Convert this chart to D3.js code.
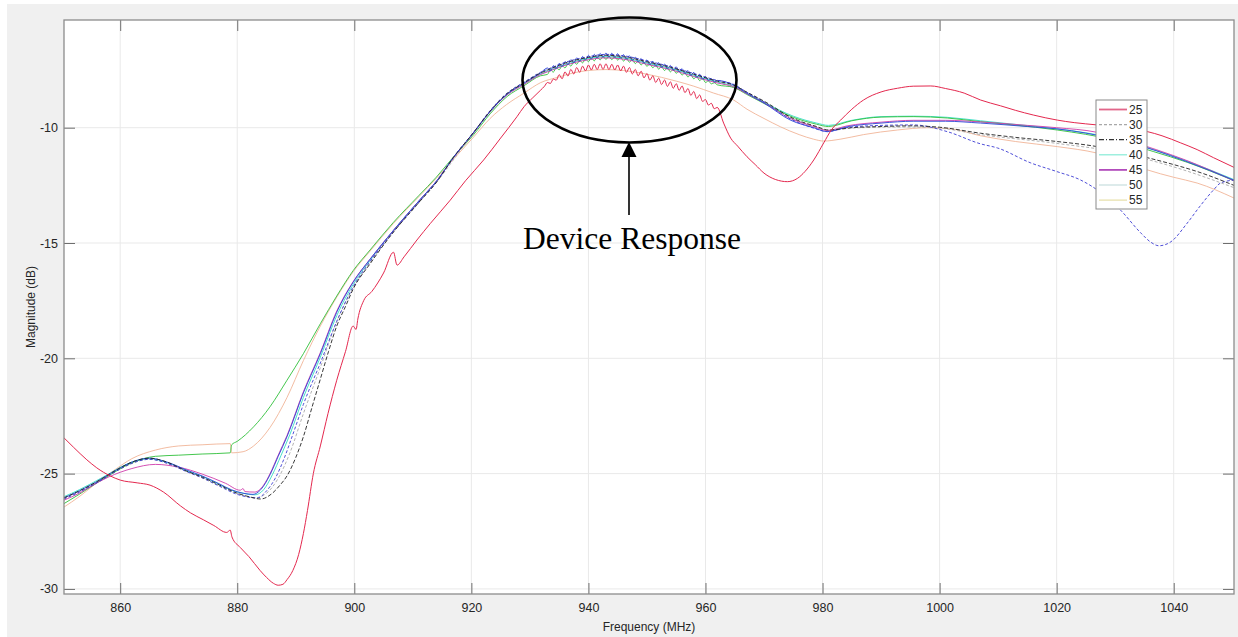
<!DOCTYPE html>
<html><head><meta charset="utf-8">
<script src="https://cdn.jsdelivr.net/npm/d3@7"></script>
<style>body{margin:0;background:#fff;overflow:hidden}</style>
</head><body>
<svg id="c" width="1238" height="637"></svg>
<script>
// ---------------- DATA ----------------
const xTicks = [860, 880, 900, 920, 940, 960, 980, 1000, 1020, 1040];
const yTicks = [-30, -25, -20, -15, -10];
const xDomain = [850.4, 1050.3];
const yDomain = [-30.22, -5.33];

const legendLabels = ["25", "30", "35", "40", "45", "50", "55"];
const legendColors = ["#e2668a", "#a8a8a8", "#333333", "#86ecd6", "#b24cbc", "#c6dede", "#e6dfa6"];
const legendDashes = [null, "3,2", "5,2,1,2", null, null, null, null];

// frequency grid of the rippled peak segment (MHz)
const rippleFreqs = [933,933.5,934,934.5,935,935.5,936,936.5,937,937.5,938,938.5,939,939.5,940,940.5,941,941.5,942,942.5,943,943.5,944,944.5,945,945.5,946,946.5,947,947.5,948,948.5,949,949.5,950,950.5,951,951.5,952,952.5,953,953.5,954,954.5,955,955.5,956,956.5,957,957.5,958,958.5,959,959.5,960,960.5,961,961.5,962];

// 25 (red)
const red25 = [[850.4,-23.45],[852,-23.85],[854.3,-24.4],[856,-24.75],[858.3,-25.1],[860,-25.28],[862.9,-25.4],[865.1,-25.5],[867.4,-25.8],[870.3,-26.4],[872,-26.7],[874.2,-27.0],[876,-27.25],[878.2,-27.55],[878.8,-27.45],[879.1,-27.75],[880.5,-28.2],[882,-28.6],[883.9,-29.2],[885,-29.5],[886.2,-29.76],[887,-29.84],[887.8,-29.8],[888.5,-29.6],[889.5,-29.2],[890.5,-28.5],[891.3,-27.6],[892,-26.6],[893,-25.0],[894.2,-23.8],[895.5,-22.4],[897,-20.95],[898.5,-19.7],[899.8,-18.6],[900.3,-18.75],[900.6,-18.3],[901.6,-17.5],[903,-17.1],[905,-16.3],[906.7,-15.4],[907.3,-15.96],[908.5,-15.6],[910.7,-14.87],[913,-14.15],[916.4,-13.14],[919,-12.3],[922.1,-11.4],[925,-10.45],[927.8,-9.52],[929,-9.09],[930.5,-8.7],[931.8,-8.38],[932.5,-8.2]];
const red25Ripple = [-8.04,-8.08,-7.89,-7.94,-7.70,-7.88,-7.58,-7.76,-7.47,-7.67,-7.39,-7.60,-7.33,-7.54,-7.28,-7.50,-7.25,-7.48,-7.23,-7.47,-7.23,-7.48,-7.25,-7.50,-7.28,-7.54,-7.33,-7.60,-7.39,-7.67,-7.47,-7.75,-7.55,-7.84,-7.65,-7.94,-7.75,-8.04,-7.85,-8.13,-7.93,-8.21,-8.01,-8.29,-8.09,-8.38,-8.19,-8.48,-8.30,-8.60,-8.43,-8.74,-8.58,-8.86,-8.78,-9.02,-8.94,-9.18,-9.12];
const red25Tail = [[963.1,-9.8],[964.3,-10.45],[965.5,-10.8],[967.1,-11.26],[968.5,-11.6],[970,-11.97],[972,-12.25],[974,-12.34],[975.7,-12.2],[977,-11.9],[978.5,-11.4],[980.2,-10.66],[981.5,-10.1],[983.1,-9.67],[985,-9.2],[987,-8.8],[990,-8.45],[992.8,-8.29],[995.5,-8.2],[998.5,-8.19],[1001,-8.3],[1004.2,-8.5],[1007,-8.8],[1010.4,-9.05],[1013,-9.25],[1016,-9.45],[1020.1,-9.67],[1023,-9.78],[1026.9,-9.88],[1031,-10.0],[1035.5,-10.17],[1038,-10.35],[1041.2,-10.66],[1044,-10.95],[1046.8,-11.3],[1050.3,-11.72]];

// blue solid
const blueSolid = [[850.4,-26.05],[853,-25.75],[856,-25.35],[858.3,-25.0],[860,-24.75],[862,-24.5],[865,-24.33],[868,-24.5],[871.4,-24.85],[874,-25.1],[877,-25.45],[879,-25.7],[881,-25.85],[882.7,-25.9],[884,-25.7],[885.6,-25.05],[887,-24.25],[888.5,-23.4],[891.3,-21.5],[894.2,-19.8],[897,-18.0],[899.8,-16.7],[902.7,-15.7],[906.7,-14.45],[911.3,-13.1],[914.1,-12.3],[916.9,-11.3],[920.4,-10.2],[923.2,-9.3],[926.1,-8.55],[929,-8.06],[931.8,-7.63]];
const blueSolidRipple = [-7.41,-7.54,-7.31,-7.44,-7.21,-7.35,-7.13,-7.27,-7.05,-7.19,-6.97,-7.12,-6.91,-7.06,-6.86,-7.02,-6.82,-6.98,-6.78,-6.95,-6.76,-6.94,-6.77,-6.96,-6.79,-6.99,-6.83,-7.03,-6.88,-7.09,-6.94,-7.15,-7.00,-7.21,-7.06,-7.27,-7.12,-7.33,-7.18,-7.39,-7.24,-7.45,-7.30,-7.51,-7.36,-7.58,-7.44,-7.66,-7.52,-7.74,-7.60,-7.82,-7.68,-7.90,-7.78,-7.96,-7.87,-8.02,-7.95];
const blueSolidTail = [[964.8,-8.15],[967,-8.5],[970,-8.93],[974.5,-9.67],[978.5,-10.0],[980.8,-10.17],[984.2,-9.96],[990,-9.8],[995.6,-9.72],[1001,-9.72],[1007,-9.8],[1015,-9.95],[1020,-10.05],[1030,-10.5],[1037,-11.0],[1042,-11.45],[1050.3,-12.28]];

// 50 (green)
const green50 = [[850.4,-26.3],[853,-25.9],[856,-25.4],[858.3,-25.05],[861,-24.65],[864,-24.35],[866,-24.25],[870,-24.2],[874,-24.15],[878.8,-24.1],[879.05,-23.75],[880,-23.6],[882.8,-22.97],[885.6,-22.1],[888.5,-20.95],[891.3,-19.8],[894.2,-18.5],[897,-17.3],[899.8,-16.2],[902.7,-15.3],[906.7,-14.1],[911,-12.95],[914,-12.15],[917,-11.25],[920.4,-10.3],[923.2,-9.4],[926.1,-8.65],[929,-8.18],[931.8,-7.75]];
const green50Ripple = [-7.69,-7.50,-7.59,-7.40,-7.49,-7.31,-7.41,-7.23,-7.33,-7.15,-7.25,-7.08,-7.19,-7.02,-7.14,-6.98,-7.10,-6.94,-7.06,-6.91,-7.04,-6.90,-7.05,-6.92,-7.07,-6.95,-7.11,-6.99,-7.16,-7.05,-7.22,-7.11,-7.28,-7.17,-7.34,-7.23,-7.40,-7.29,-7.46,-7.35,-7.52,-7.41,-7.58,-7.47,-7.64,-7.54,-7.72,-7.62,-7.80,-7.70,-7.88,-7.78,-7.96,-7.86,-8.04,-7.97,-8.10,-8.05,-8.14];
const green50Tail = [[964.8,-8.25],[967,-8.55],[970,-8.95],[975,-9.55],[979,-9.85],[981,-9.95],[985,-9.7],[990,-9.54],[995.6,-9.52],[1001.3,-9.58],[1007,-9.74],[1012.7,-9.88],[1020.1,-10.1],[1029.7,-10.53],[1036.6,-11.04],[1042.3,-11.5],[1050.3,-12.3]];

// 55 (tan)
const tan55 = [[850.4,-26.45],[853,-26.0],[856,-25.4],[859,-24.85],[862,-24.35],[866,-23.98],[870,-23.8],[874,-23.75],[878.8,-23.7],[879.05,-24.1],[881,-24.05],[882.8,-23.8],[885.6,-23.0],[888.5,-21.7],[891.3,-20.1],[894.2,-18.6],[897,-17.35],[899.8,-16.25],[902.7,-15.35],[906.7,-14.15],[911,-13.0],[914,-12.2],[917,-11.35],[920.4,-10.4],[923.2,-9.6],[926,-9.0],[929,-8.5],[931.8,-8.05],[935,-7.8],[937.5,-7.62],[940,-7.52],[943,-7.48],[946,-7.52],[950,-7.68],[955,-7.98],[958,-8.2],[961.4,-8.5],[964.8,-8.8],[967.1,-9.2],[970,-9.6],[972.8,-9.96],[976,-10.3],[978.5,-10.5],[980.2,-10.58],[983,-10.5],[987,-10.3],[992.8,-10.1],[998,-10.0],[1002,-10.05],[1007,-10.35],[1013,-10.6],[1020.1,-10.82],[1026.9,-11.1],[1031,-11.4],[1035.5,-11.83],[1040,-12.15],[1044,-12.4],[1050.3,-13.05]];

// 35 (black dashed)
const black35 = [[850.4,-26.05],[853,-25.75],[856,-25.35],[858.3,-25.0],[860,-24.75],[862,-24.5],[865,-24.33],[868,-24.5],[871.4,-24.9],[874,-25.15],[877,-25.5],[880,-25.85],[882,-26.0],[884,-26.1],[886,-25.85],[887.3,-25.5],[888.5,-25.1],[890,-24.3],[891.3,-23.4],[892.8,-22.1],[894.2,-20.9],[895.6,-19.7],[897,-18.6],[898.5,-17.75],[899.8,-17.0],[902.7,-15.9],[906,-14.75],[911,-13.25],[914.1,-12.35],[916.9,-11.3],[920.4,-10.2],[923.2,-9.28],[926.1,-8.52],[929,-8.06],[931.8,-7.63],[933,-7.5],[936,-7.2],[940,-6.95],[943,-6.86],[946,-6.92],[950,-7.14],[954,-7.38],[958,-7.68],[962,-7.98],[964.8,-8.15],[967,-8.45],[970,-8.85],[975,-9.6],[979,-9.95],[981,-10.1],[985,-10.0],[990,-9.95],[995,-9.92],[1000,-9.98],[1007,-10.24],[1013,-10.42],[1020.1,-10.6],[1026.9,-10.82],[1031,-11.03],[1035.5,-11.3],[1040,-11.6],[1044,-11.9],[1050.3,-12.5]];

// blue dashed
const blueDashed = [[850.4,-26.1],[853,-25.8],[856,-25.4],[858.3,-25.05],[860,-24.8],[862,-24.55],[865,-24.38],[868,-24.55],[871.4,-24.92],[874,-25.18],[877,-25.55],[880,-25.9],[882,-26.02],[883.5,-26.05],[885,-25.75],[886.5,-25.2],[888,-24.35],[889.5,-23.3],[891.3,-22.0],[894.2,-20.2],[897,-18.4],[899.8,-16.9],[902.7,-15.8],[906.7,-14.5],[911.3,-13.15],[914.1,-12.32],[916.9,-11.3],[920.4,-10.2],[923.2,-9.26],[926.1,-8.5],[929,-8.03],[931.8,-7.6],[933,-7.47],[936,-7.17],[940,-6.92],[943,-6.82],[946,-6.88],[950,-7.1],[954,-7.35],[958,-7.65],[962,-7.95],[964.8,-8.12],[967,-8.45],[970,-8.88],[974.5,-9.62],[978.5,-10.02],[980.8,-10.17],[984,-10.0],[990,-9.9],[995.6,-9.88],[1001.3,-10.17],[1007,-10.7],[1009.9,-10.88],[1015.6,-11.53],[1020,-11.9],[1024.1,-12.27],[1028,-12.9],[1030.9,-13.57],[1034.4,-14.57],[1036,-14.95],[1037.5,-15.12],[1039.5,-14.95],[1042.3,-14.14],[1044.5,-13.4],[1046.8,-12.7],[1048,-12.4],[1050.3,-12.27]];

// 40 (cyan)
const cyan40 = [[850.4,-26.0],[853,-25.7],[856,-25.3],[858.3,-24.98],[860,-24.73],[862,-24.5],[865,-24.35],[868,-24.52],[871.4,-24.88],[874,-25.12],[877,-25.48],[879,-25.72],[881,-25.85],[883,-25.92],[884.5,-25.7],[886,-25.05],[887.5,-24.2],[889,-23.3],[891.3,-21.7],[894.2,-19.95],[897,-18.15],[899.8,-16.8],[902.7,-15.75],[906.7,-14.45],[911.3,-13.1],[914.1,-12.3],[916.9,-11.32],[920.4,-10.22],[923.2,-9.3],[926.1,-8.56],[929,-8.1],[931.8,-7.68],[933,-7.55],[936,-7.27],[940,-7.0],[943,-6.92],[946,-6.98],[950,-7.2],[954,-7.43],[958,-7.73],[962,-8.02],[964.8,-8.2],[967,-8.5],[970,-8.9],[975,-9.5],[979,-9.8],[981,-9.9],[985,-9.68],[990,-9.52],[995.6,-9.5],[1001.3,-9.55],[1007,-9.7],[1012.7,-9.85],[1020.1,-10.05],[1029.7,-10.45],[1036.6,-10.95],[1042.3,-11.45],[1050.3,-12.25]];

// 45 (magenta)
const magenta45 = [[850.4,-26.15],[853,-25.85],[855,-25.55],[858,-25.15],[862,-24.78],[866,-24.6],[870,-24.72],[874,-25.02],[878,-25.42],[880.5,-25.72],[881,-25.65],[881.3,-25.78],[883,-25.8],[884.5,-25.5],[885.6,-25.0],[887,-24.2],[888.5,-23.35],[891.3,-21.45],[894.2,-19.75],[897,-17.95],[899.8,-16.68],[902.7,-15.7],[906.7,-14.45],[911.3,-13.1],[914.1,-12.3],[916.9,-11.32],[920.4,-10.22],[923.2,-9.3],[926.1,-8.58],[929,-8.12],[931.8,-7.7],[933,-7.58],[936,-7.3],[940,-7.05],[943,-6.97],[946,-7.03],[950,-7.25],[954,-7.48],[958,-7.78],[962,-8.06],[964.8,-8.22],[967,-8.52],[970,-8.92],[974.5,-9.6],[978.5,-9.95],[980.8,-10.12],[984.2,-9.92],[990,-9.76],[995.6,-9.68],[1001,-9.68],[1007,-9.75],[1015,-9.9],[1020,-10.0],[1026.9,-10.2],[1030,-10.4],[1037,-10.95],[1042,-11.4],[1050.3,-12.3]];

// 30 (gray dashed)
const gray30 = [[850.4,-26.1],[856,-25.4],[860,-24.8],[865,-24.38],[870,-24.75],[875,-25.3],[880,-25.85],[883,-26.05],[885,-25.85],[887,-25.2],[889,-24.1],[891.3,-22.4],[894.2,-20.4],[897,-18.4],[899.8,-16.95],[902.7,-15.85],[906.7,-14.52],[911.3,-13.18],[914.1,-12.34],[920.4,-10.22],[926.1,-8.54],[931.8,-7.66],[936,-7.24],[940,-6.98],[943,-6.9],[946,-6.96],[950,-7.18],[954,-7.41],[958,-7.72],[962,-8.02],[967,-8.5],[970,-8.9],[975,-9.62],[979,-9.98],[981,-10.12],[985,-10.02],[990,-9.98],[995,-9.97],[1000,-10.02],[1007,-10.3],[1020,-10.68],[1030,-11.05],[1040,-11.7],[1050.3,-12.6]];

// ---------------- BUILD ----------------
function withRipple(head, ripple, tail) {
  return head.concat(rippleFreqs.map((f, i) => [f, ripple[i]]), tail);
}
const series = [
  {pts: tan55, color: "#f1b497", dash: null, w: 0.9},
  {pts: gray30, color: "#a9a9a9", dash: "3,2", w: 0.9},
  {pts: cyan40, color: "#34dcc4", dash: null, w: 0.9},
  {pts: withRipple(green50, green50Ripple, green50Tail), color: "#2fbf3a", dash: null, w: 0.9},
  {pts: magenta45, color: "#cf3caa", dash: null, w: 0.9},
  {pts: withRipple(blueSolid, blueSolidRipple, blueSolidTail), color: "#2b45d8", dash: null, w: 0.9},
  {pts: blueDashed, color: "#3b3bd2", dash: "3,2", w: 0.9},
  {pts: black35, color: "#222222", dash: "4,2", w: 0.9},
  {pts: withRipple(red25, red25Ripple, red25Tail), color: "#e4284e", dash: null, w: 1}
];

const svg = d3.select("#c");
const L = 64, R = 1234, T = 20, B = 594;
const x = d3.scaleLinear().domain(xDomain).range([L, R]);
const y = d3.scaleLinear().domain(yDomain).range([B, T]);

// figure background
svg.append("rect").attr("x", 7).attr("y", 4).attr("width", 1231).attr("height", 633).attr("fill", "#f0f0f0");
svg.append("rect").attr("x", L).attr("y", T).attr("width", R - L).attr("height", B - T).attr("fill", "#ffffff");

// grid
const grid = svg.append("g").attr("stroke", "#e9e9e9").attr("stroke-width", 1);
grid.selectAll("line.gx").data(xTicks).join("line")
  .attr("x1", d => x(d)).attr("x2", d => x(d)).attr("y1", T).attr("y2", B);
grid.selectAll("line.gy").data(yTicks).join("line")
  .attr("y1", d => y(d)).attr("y2", d => y(d)).attr("x1", L).attr("x2", R);

// lines
svg.append("clipPath").attr("id", "clip").append("rect")
  .attr("x", L).attr("y", T).attr("width", R - L).attr("height", B - T);
const line = d3.line().x(d => x(d[0])).y(d => y(d[1])).curve(d3.curveMonotoneX);
const lg = svg.append("g").attr("clip-path", "url(#clip)");
series.forEach(s => {
  lg.append("path").attr("d", line(s.pts)).attr("fill", "none")
    .attr("stroke", s.color).attr("stroke-width", s.w)
    .attr("stroke-dasharray", s.dash);
});

// axes
const fontFam = "'Liberation Sans', Arial, Helvetica, sans-serif";
const numFmt = d => String(d);
function styleAxis(g) {
  g.select(".domain").remove();
  g.selectAll(".tick line").attr("stroke", "#6e6e6e");
  g.selectAll(".tick text").attr("fill", "#262626").style("font-family", fontFam).style("font-size", "12.5px");
}
svg.append("g").attr("transform", `translate(0,${B})`)
  .call(d3.axisBottom(x).tickValues(xTicks).tickSizeInner(-11).tickSizeOuter(0).tickPadding(9).tickFormat(numFmt))
  .call(styleAxis);
svg.append("g").attr("transform", `translate(0,${T})`)
  .call(d3.axisTop(x).tickValues(xTicks).tickSizeInner(-11).tickSizeOuter(0).tickFormat(""))
  .call(styleAxis);
svg.append("g").attr("transform", `translate(${L},0)`)
  .call(d3.axisLeft(y).tickValues(yTicks).tickSizeInner(-11).tickSizeOuter(0).tickPadding(6).tickFormat(numFmt))
  .call(styleAxis);
svg.append("g").attr("transform", `translate(${R},0)`)
  .call(d3.axisRight(y).tickValues(yTicks).tickSizeInner(-11).tickSizeOuter(0).tickFormat(""))
  .call(styleAxis);

svg.append("rect").attr("x", L).attr("y", T).attr("width", R - L).attr("height", B - T)
  .attr("fill", "none").attr("stroke", "#8c8c8c").attr("stroke-width", 1.3);

// axis labels
svg.append("text").attr("x", (L + R) / 2).attr("y", 631).attr("text-anchor", "middle")
  .style("font-family", fontFam).style("font-size", "12px").attr("fill", "#262626").text("Frequency (MHz)");
svg.append("text").attr("transform", `translate(35,${(T + B) / 2}) rotate(-90)`).attr("text-anchor", "middle")
  .style("font-family", fontFam).style("font-size", "12px").attr("fill", "#262626").text("Magnitude (dB)");

// legend
const lgX = 1096, lgY = 100, rowH = 15.1;
const leg = svg.append("g");
leg.append("rect").attr("x", lgX).attr("y", lgY).attr("width", 51).attr("height", 109)
  .attr("fill", "#ffffff").attr("stroke", "#8a8a8a").attr("stroke-width", 1);
legendLabels.forEach((lab, i) => {
  const yy = lgY + 9.5 + i * rowH;
  leg.append("line").attr("x1", lgX + 3).attr("x2", lgX + 31).attr("y1", yy).attr("y2", yy)
    .attr("stroke", legendColors[i]).attr("stroke-width", i === 0 || i === 4 ? 1.8 : 1.2)
    .attr("stroke-dasharray", legendDashes[i]);
  leg.append("text").attr("x", lgX + 33).attr("y", yy + 4.3)
    .style("font-family", fontFam).style("font-size", "12px").attr("fill", "#262626").text(lab);
});

// annotation
const ann = svg.append("g");
ann.append("ellipse").attr("cx", 629.5).attr("cy", 80).attr("rx", 107).attr("ry", 62.5)
  .attr("fill", "none").attr("stroke", "#000").attr("stroke-width", 2.6);
ann.append("line").attr("x1", 629).attr("x2", 629).attr("y1", 155).attr("y2", 215)
  .attr("stroke", "#000").attr("stroke-width", 1.6);
ann.append("path").attr("d", "M629,142 L621.5,157 L636.5,157 Z").attr("fill", "#000");
ann.append("text").attr("x", 632).attr("y", 249).attr("text-anchor", "middle")
  .style("font-family", "'Liberation Serif', 'Times New Roman', serif").style("font-size", "31.5px")
  .attr("fill", "#000").text("Device Response");
</script>
</body></html>
